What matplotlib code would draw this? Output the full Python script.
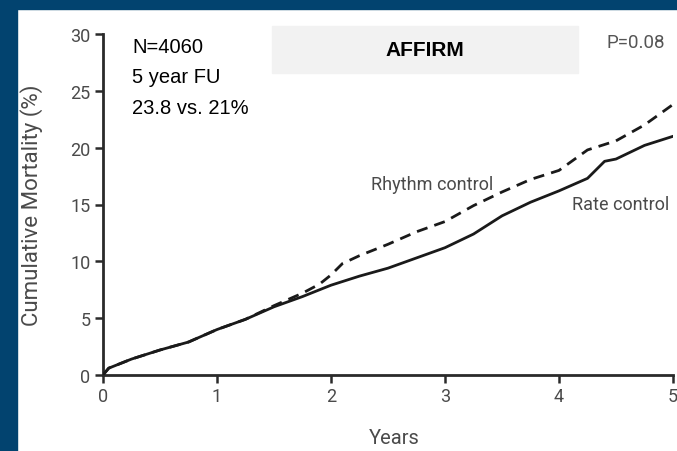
import matplotlib
matplotlib.use("Agg")
import matplotlib.pyplot as plt
from matplotlib.patches import Rectangle

# Cumulative mortality (%) by follow-up year
years_rate = [0, 0.05, 0.25, 0.5, 0.75, 1.0, 1.25, 1.5, 1.75, 2.0, 2.25, 2.5,
              2.75, 3.0, 3.25, 3.5, 3.75, 4.0, 4.25, 4.4, 4.5, 4.75, 5.0]
rate_control = [0, 0.6, 1.4, 2.2, 2.9, 4.0, 4.9, 6.0, 6.9, 7.9, 8.7, 9.4,
                10.3, 11.2, 12.4, 14.0, 15.2, 16.2, 17.3, 18.8, 19.0, 20.2, 21.0]

years_rhythm = [0, 0.05, 0.25, 0.5, 0.75, 1.0, 1.25, 1.5, 1.75, 1.9, 2.0, 2.1,
                2.25, 2.5, 2.75, 3.0, 3.25, 3.5, 3.75, 4.0, 4.25, 4.5, 4.75, 5.0]
rhythm_control = [0, 0.6, 1.4, 2.2, 2.9, 4.0, 4.9, 6.1, 7.2, 8.0, 8.8, 9.8,
                  10.5, 11.5, 12.6, 13.5, 14.9, 16.1, 17.2, 18.0, 19.8, 20.6,
                  22.0, 23.8]

x_ticks = [0, 1, 2, 3, 4, 5]
y_ticks = [0, 5, 10, 15, 20, 25, 30]

W, H = 677, 452
fig = plt.figure(figsize=(W / 100, H / 100), dpi=100)
fig.patch.set_facecolor("white")

narrow = ["Roboto", "DejaVu Sans"]
arial = ["Liberation Sans", "DejaVu Sans"]
gray = "#4a4a4a"

# dark blue frame along the top and left edges
navy = "#02436f"
fig.patches.append(Rectangle((0, 1 - 10 / H), 1, 10 / H, transform=fig.transFigure,
                             color=navy, zorder=0))
fig.patches.append(Rectangle((0, 0), 17 / W, 1, transform=fig.transFigure,
                             color=navy, zorder=0))

ax = fig.add_axes([103 / W, 1 - 376 / H, (673 - 103) / W, (376 - 35) / H])
ax.set_facecolor("none")

ax.plot(years_rhythm, rhythm_control, color="#1a1a1a", lw=2.0,
        linestyle=(0, (4, 2.6)), zorder=3)
ax.plot(years_rate, rate_control, color="#1a1a1a", lw=2.0, zorder=4)

ax.set_xlim(0, 5)
ax.set_ylim(0, 30)
ax.set_xticks(x_ticks)
ax.set_yticks(y_ticks)
for side in ("top", "right"):
    ax.spines[side].set_visible(False)
for side in ("left", "bottom"):
    ax.spines[side].set_linewidth(2.0)
    ax.spines[side].set_color("#2a2a2a")
ax.tick_params(direction="out", length=6, width=1.8, color="#2a2a2a",
               labelsize=13, labelcolor=gray, pad=3)
for lab in ax.get_xticklabels() + ax.get_yticklabels():
    lab.set_family(narrow)
for lab in ax.get_xticklabels():
    lab.set_clip_on(False)

ax.set_xlabel("Years", family=narrow, fontsize=14.5, color=gray)
ax.set_ylabel("Cumulative Mortality (%)", family=narrow, fontsize=16,
              color=gray)
ax.xaxis.set_label_coords(0.51, -0.155)
ax.yaxis.set_label_coords(-0.105, 0.5)

ax.text(2.89, 16.8, "Rhythm control", family=narrow, fontsize=13, color=gray,
        ha="center", va="center")
ax.text(4.54, 15.0, "Rate control", family=narrow, fontsize=13, color=gray,
        ha="center", va="center")

# study summary and title box
def fx(px):
    return px / W

def fy(py):
    return 1 - py / H

fig.patches.append(Rectangle((fx(272), fy(74)), (578 - 272) / W, (74 - 27) / H,
                             transform=fig.transFigure, color="#f2f2f2", zorder=1))
fig.text(fx(425), fy(50), "AFFIRM", family=arial, fontsize=15, fontweight="bold",
         color="black", ha="center", va="center")
fig.text(fx(636), fy(43), "P=0.08", family=narrow, fontsize=13.5, color="#555555",
         ha="center", va="center")

for i, line in enumerate(["N=4060", "5 year FU", "23.8 vs. 21%"]):
    fig.text(fx(132), fy(48 + 30 * i), line, family=arial, fontsize=14.5,
             color="black", ha="left", va="center")

fig.savefig("out.png", dpi=100)
